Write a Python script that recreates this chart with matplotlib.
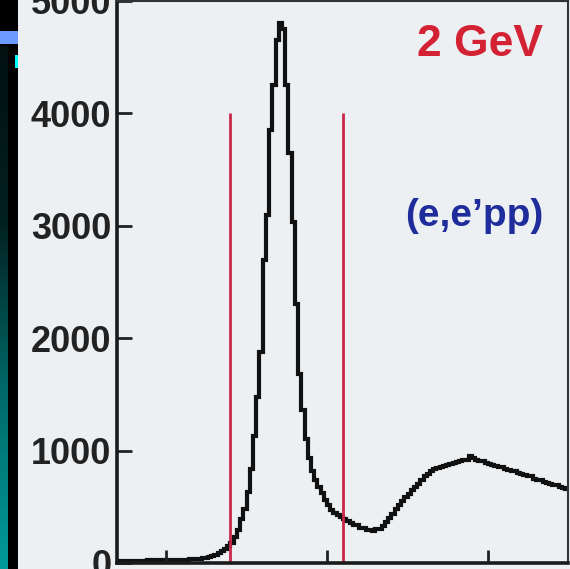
import numpy as np
import matplotlib
matplotlib.use('Agg')
import matplotlib.pyplot as plt
from matplotlib.patches import Rectangle
from matplotlib.colors import LinearSegmentedColormap

# histogram (arbitrary x units, bins of 0.002)
bin_start = 0.87
bin_width = 0.002
counts = [20, 20, 18, 20, 20, 22, 20, 22, 22, 24,
          22, 25, 25, 24, 26, 27, 26, 28, 28, 30,
          29, 31, 32, 33, 35, 37, 42, 47, 53, 60,
          72, 88, 108, 125, 148, 180, 230, 295, 390, 480,
          630, 840, 1130, 1480, 1880, 2700, 3100, 3850, 4250, 4650,
          4800, 4750, 4250, 3650, 3030, 2300, 1680, 1360, 1100, 930,
          820, 740, 675, 625, 560, 515, 470, 445, 425, 410,
          395, 375, 355, 340, 335, 315, 310, 290, 290, 285,
          300, 305, 330, 365, 400, 440, 480, 515, 550, 585,
          610, 650, 680, 700, 735, 770, 790, 815, 835, 845,
          850, 865, 870, 880, 890, 895, 910, 920, 915, 950,
          930, 920, 905, 905, 890, 885, 870, 865, 850, 855,
          835, 830, 815, 820, 800, 790, 785, 770, 770, 750,
          740, 735, 720, 710, 705, 690, 690, 675, 670, 660]
cut_lo = 0.94
cut_hi = 1.01
cut_height = 4000
xticks = [0.9, 1.0, 1.1]
yticks = [0, 1000, 2000, 3000, 4000, 5000]

paper = '#edf0f3'
fig = plt.figure(figsize=(5.7, 5.69), dpi=100, facecolor=paper)

# slide edge on the left of the scan
fig.patches.append(Rectangle((0, 0), 18/570, 1, transform=fig.transFigure,
                             facecolor='black', edgecolor='none', zorder=-2))
fig.patches.append(Rectangle((0, 1 - 44/569), 18/570, 13/569, transform=fig.transFigure,
                             facecolor='#6b9bff', edgecolor='none', zorder=-1))
fig.patches.append(Rectangle((15/570, 1 - 68/569), 3/570, 13/569, transform=fig.transFigure,
                             facecolor='#00ffff', edgecolor='none', zorder=-1))
gax = fig.add_axes([0, 0, 8/570, 1 - 46/569], zorder=3)
grad = np.linspace(0, 1, 256).reshape(-1, 1)
teal = LinearSegmentedColormap.from_list('teal', ['#009a9a', '#006a6a', '#032020', '#021010'])
gax.imshow(grad, aspect='auto', cmap=teal, origin='lower')
gax.axis('off')

ax = fig.add_axes([117/570, 6/569, 451/570, 562/569])
ax.set_facecolor(paper)

edges = bin_start + bin_width*np.arange(len(counts) + 1)
ax.stairs(counts, edges, color='#111111', lw=3.0, baseline=None)

ax.vlines([cut_lo, cut_hi], 0, cut_height, color='#c8284a', lw=2.0)

ax.set_xlim(0.8695, 1.1497)
ax.set_ylim(0, 5000)
ax.set_xticks(xticks)
ax.set_xticklabels([])
ax.set_yticks(yticks)
ax.set_yticklabels([str(v) for v in yticks], fontfamily='Liberation Sans',
                   fontweight='bold', fontsize=26, color='#222222')
ax.tick_params(axis='x', direction='in', length=9.5, width=2, color='#222222')
ax.tick_params(axis='y', direction='in', length=11, width=2, pad=4, color='#222222')

for side in ['left', 'bottom']:
    ax.spines[side].set_linewidth(2.6)
    ax.spines[side].set_color('#1a1a1a')
for side in ['top', 'right']:
    ax.spines[side].set_linewidth(1.5)
    ax.spines[side].set_color('#333333')

ax.text(0.945, 0.923, '2 GeV', transform=ax.transAxes, ha='right', va='center',
        fontfamily='Liberation Sans', fontweight='bold', fontsize=32, color='#d42235')
ax.text(0.945, 0.617, '(e,e\u2019pp)', transform=ax.transAxes, ha='right', va='center',
        fontfamily='Liberation Sans', fontweight='bold', fontsize=28, color='#1e2d9b')

fig.savefig('out.png', dpi=100, facecolor=paper)
